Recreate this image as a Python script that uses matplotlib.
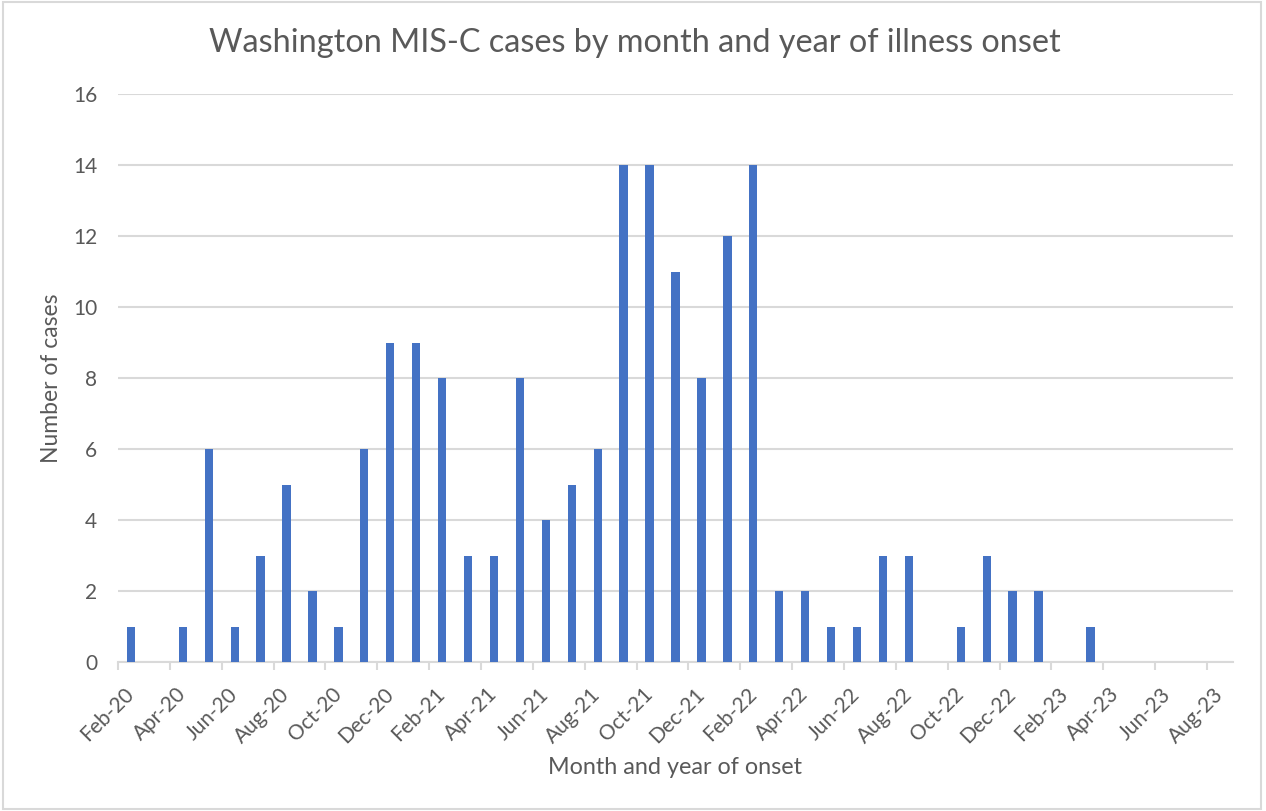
import matplotlib
matplotlib.use("Agg")
import matplotlib.pyplot as plt
from matplotlib.patches import Rectangle

plt.rcParams['font.family'] = ['Lato', 'DejaVu Sans']

months = ["Feb-20", "Mar-20", "Apr-20", "May-20", "Jun-20", "Jul-20", "Aug-20", "Sep-20",
          "Oct-20", "Nov-20", "Dec-20", "Jan-21", "Feb-21", "Mar-21", "Apr-21", "May-21",
          "Jun-21", "Jul-21", "Aug-21", "Sep-21", "Oct-21", "Nov-21", "Dec-21", "Jan-22",
          "Feb-22", "Mar-22", "Apr-22", "May-22", "Jun-22", "Jul-22", "Aug-22", "Sep-22",
          "Oct-22", "Nov-22", "Dec-22", "Jan-23", "Feb-23", "Mar-23", "Apr-23", "May-23",
          "Jun-23", "Jul-23", "Aug-23"]
cases = [1, 0, 1, 6, 1, 3, 5, 2, 1, 6, 9, 9, 8, 3, 3, 8, 4, 5, 6, 14, 14, 11, 8, 12,
         14, 2, 2, 1, 1, 3, 3, 0, 1, 3, 2, 2, 0, 1, 0, 0, 0, 0, 0]
y_ticks = [0, 2, 4, 6, 8, 10, 12, 14, 16]

text_color = "#595959"
grid_color = "#D9D9D9"
bar_color = "#4472C4"

fig = plt.figure(figsize=(12.66, 8.11), dpi=100)
ax = fig.add_axes([118 / 1266, 1 - 662 / 811, (1233 - 118) / 1266, (662 - 94) / 811])

x = list(range(len(months)))
ax.bar(x, cases, width=0.32, color=bar_color, zorder=3)

ax.set_xlim(-0.5, len(months) - 0.5)
ax.set_ylim(0, 16)
ax.set_yticks(y_ticks)
ax.yaxis.grid(True, color=grid_color, linewidth=1.5, zorder=0)
ax.tick_params(axis='y', length=0, pad=15, labelsize=15, labelcolor=text_color)

# labels on every second month, tick marks on category boundaries
ax.set_xticks(x[::2])
ax.set_xticklabels(months[::2], rotation=45, ha='right', va='center', rotation_mode='anchor')
ax.set_xticks([i - 0.5 for i in x[::2]], minor=True)
ax.tick_params(axis='x', which='major', length=0, pad=21, labelsize=15, labelcolor=text_color)
ax.tick_params(axis='x', which='minor', length=6, width=1.5, color=grid_color)

for side in ['top', 'right', 'left']:
    ax.spines[side].set_visible(False)
ax.spines['bottom'].set_color(grid_color)
ax.spines['bottom'].set_linewidth(1.5)

fig.text(635 / 1266, 1 - 43 / 811, "Washington MIS-C cases by month and year of illness onset",
         ha='center', va='center', fontsize=23.3, color=text_color)
fig.text(675 / 1266, 1 - 768 / 811, "Month and year of onset",
         ha='center', va='center', fontsize=16.8, color=text_color)
fig.text(52 / 1266, 1 - 378 / 811, "Number of cases", rotation=90,
         ha='center', va='center', fontsize=16.5, color=text_color)

fig.patches.append(Rectangle((0.002, 0.002), 0.994, 0.995, transform=fig.transFigure,
                             fill=False, edgecolor=grid_color, linewidth=1.5))

fig.savefig("out.png", dpi=100)
